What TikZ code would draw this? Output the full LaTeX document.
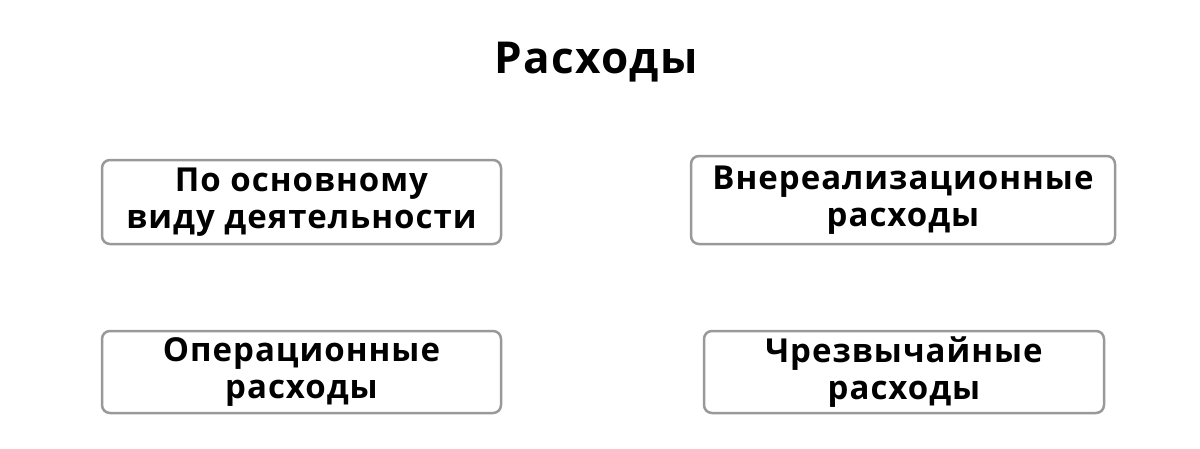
\documentclass[tikz,border=0pt]{standalone}
\usepackage{fontspec}
\setmainfont{Open Sans}[LetterSpace=3]
\begin{document}
\begin{tikzpicture}[x=1pt,y=-1pt,
  box/.style={draw=black!40,line width=2.5pt,rounded corners=8pt},
  lbl/.style={align=center,font=\fontsize{33}{37}\selectfont\bfseries}]
\useasboundingbox (0,0) rectangle (1200,448);
\node[font=\fontsize{44}{50}\selectfont\bfseries] (title) at (596,62) {Расходы};
\draw[box] (102,160) rectangle (501,244);
\node[lbl] (a) at (301.5,202) {По основному\\виду деятельности};
\draw[box] (691,156) rectangle (1115,244);
\node[lbl] (b) at (903,200) {Внереализационные\\расходы};
\draw[box] (102,331) rectangle (501,413);
\node[lbl] (c) at (301.5,372) {Операционные\\расходы};
\draw[box] (704,331) rectangle (1104,413);
\node[lbl] (d) at (904,372) {Чрезвычайные\\расходы};
\end{tikzpicture}
\end{document}
